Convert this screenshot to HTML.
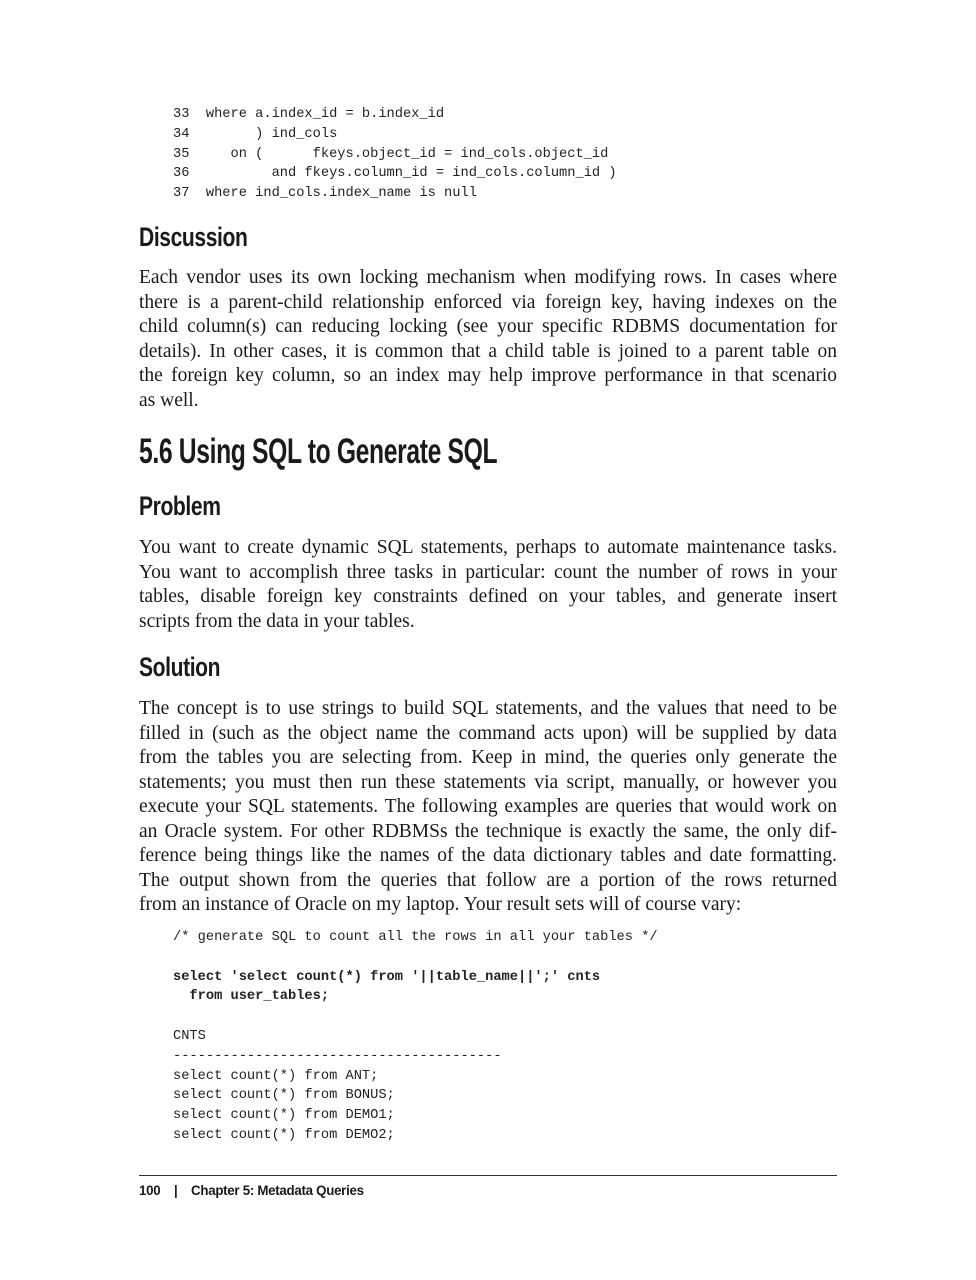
<!DOCTYPE html>
<html><head><meta charset="utf-8"><style>
body{margin:0;width:976px;height:1280px;background:#fff;position:relative;color:#1a1a1a;}
pre{position:absolute;left:173px;margin:0;font-family:"Liberation Mono",monospace;font-size:13.7px;line-height:19.8px;color:#222;}
.p{position:absolute;left:139px;width:698px;font-family:"Liberation Serif",serif;font-size:19.5px;line-height:24.5px;margin:0;}
.p div{text-align:justify;text-align-last:justify;white-space:nowrap;height:24.5px;}
.p div.l{text-align-last:left;}
h2,h1{position:absolute;left:139px;margin:0;font-family:"Liberation Sans",sans-serif;font-weight:bold;color:#1a1a1a;letter-spacing:-0.5px;transform-origin:0 0;}
h2{font-size:27px;transform:scaleX(0.78);}
h1{font-size:35px;transform:scaleX(0.705);}
b{font-weight:bold;}
.foot{position:absolute;left:139px;top:1175px;width:698px;border-top:1px solid #333;}
.ft{position:absolute;left:139px;top:1182px;font-family:"Liberation Sans",sans-serif;font-size:14px;font-weight:bold;letter-spacing:-0.3px;transform:scaleX(0.95);transform-origin:0 0;white-space:pre;}
</style></head><body>
<pre style="top:105px">33  where a.index_id = b.index_id
34        ) ind_cols
35     on (      fkeys.object_id = ind_cols.object_id
36          and fkeys.column_id = ind_cols.column_id )
37  where ind_cols.index_name is null</pre>
<h2 style="top:222px">Discussion</h2>
<div class="p" style="top:266px">
<div>Each vendor uses its own locking mechanism when modifying rows. In cases where</div>
<div>there is a parent-child relationship enforced via foreign key, having indexes on the</div>
<div>child column(s) can reducing locking (see your specific RDBMS documentation for</div>
<div>details). In other cases, it is common that a child table is joined to a parent table on</div>
<div>the foreign key column, so an index may help improve performance in that scenario</div>
<div class="l">as well.</div>
</div>
<h1 style="top:432px">5.6 Using SQL to Generate SQL</h1>
<h2 style="top:491px">Problem</h2>
<div class="p" style="top:536px">
<div>You want to create dynamic SQL statements, perhaps to automate maintenance tasks.</div>
<div>You want to accomplish three tasks in particular: count the number of rows in your</div>
<div>tables, disable foreign key constraints defined on your tables, and generate insert</div>
<div class="l">scripts from the data in your tables.</div>
</div>
<h2 style="top:652px">Solution</h2>
<div class="p" style="top:697px">
<div>The concept is to use strings to build SQL statements, and the values that need to be</div>
<div>filled in (such as the object name the command acts upon) will be supplied by data</div>
<div>from the tables you are selecting from. Keep in mind, the queries only generate the</div>
<div>statements; you must then run these statements via script, manually, or however you</div>
<div>execute your SQL statements. The following examples are queries that would work on</div>
<div>an Oracle system. For other RDBMSs the technique is exactly the same, the only dif-</div>
<div>ference being things like the names of the data dictionary tables and date formatting.</div>
<div>The output shown from the queries that follow are a portion of the rows returned</div>
<div class="l">from an instance of Oracle on my laptop. Your result sets will of course vary:</div>
</div>
<pre style="top:928px">/* generate SQL to count all the rows in all your tables */

<b>select 'select count(*) from '||table_name||';' cnts
  from user_tables;</b>

CNTS
----------------------------------------
select count(*) from ANT;
select count(*) from BONUS;
select count(*) from DEMO1;
select count(*) from DEMO2;</pre>
<div class="foot"></div>
<div class="ft">100    |    Chapter 5: Metadata Queries</div>
</body></html>
